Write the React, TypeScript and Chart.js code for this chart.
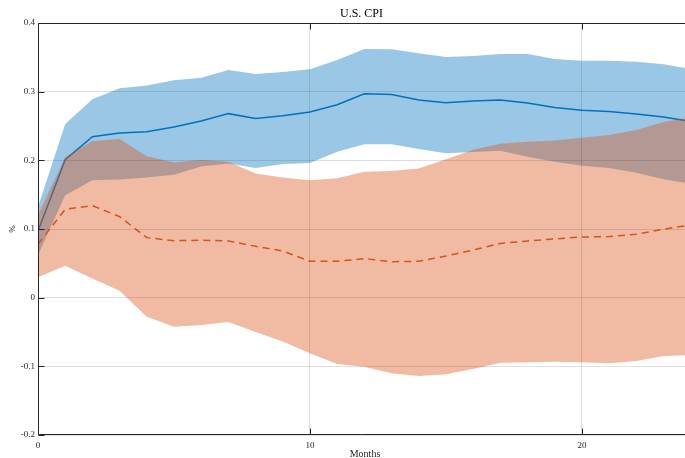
import React, { useEffect, useRef } from "react";
import { Chart, registerables } from "chart.js";

Chart.register(...registerables);

const months = [0, 1, 2, 3, 4, 5, 6, 7, 8, 9, 10, 11, 12, 13, 14, 15, 16, 17, 18, 19, 20, 21, 22, 23, 24];

const blueMean = [0.097, 0.201, 0.2345, 0.2398, 0.2418, 0.2486, 0.2573, 0.268, 0.261, 0.265, 0.2704, 0.281, 0.297, 0.2957, 0.288, 0.284, 0.2865, 0.288, 0.2836, 0.277, 0.273, 0.271, 0.2675, 0.263, 0.2565];
const blueUpper = [0.132, 0.253, 0.289, 0.305, 0.309, 0.3166, 0.3204, 0.3316, 0.3258, 0.3287, 0.3326, 0.346, 0.362, 0.3617, 0.356, 0.3505, 0.352, 0.355, 0.355, 0.3476, 0.345, 0.345, 0.3437, 0.34, 0.333];
const blueLower = [0.062, 0.149, 0.171, 0.172, 0.175, 0.179, 0.191, 0.1955, 0.189, 0.1947, 0.196, 0.2126, 0.2234, 0.2234, 0.2165, 0.2103, 0.212, 0.214, 0.2053, 0.198, 0.192, 0.189, 0.182, 0.1724, 0.166];

const orangeMean = [0.078, 0.1287, 0.134, 0.118, 0.0874, 0.083, 0.0836, 0.0826, 0.0748, 0.068, 0.053, 0.053, 0.0568, 0.0524, 0.053, 0.0607, 0.0694, 0.079, 0.0826, 0.0855, 0.0884, 0.0889, 0.0923, 0.0996, 0.106];
const orangeUpper = [0.12, 0.205, 0.228, 0.231, 0.206, 0.197, 0.201, 0.198, 0.181, 0.175, 0.171, 0.174, 0.1835, 0.1845, 0.188, 0.2015, 0.2155, 0.224, 0.227, 0.229, 0.233, 0.237, 0.244, 0.256, 0.2625];
const orangeLower = [0.0297, 0.0466, 0.028, 0.0102, -0.0277, -0.0422, -0.0398, -0.0354, -0.05, -0.064, -0.081, -0.0966, -0.1005, -0.11, -0.114, -0.1116, -0.104, -0.0947, -0.094, -0.0932, -0.094, -0.0956, -0.0922, -0.085, -0.0837];

const xTicks = [0, 10, 20];
const yTicks = [-0.2, -0.1, 0, 0.1, 0.2, 0.3, 0.4];
const yTickLabels = ["-0.2", "-0.1", "0", "0.1", "0.2", "0.3", "0.4"];
const titleText = "U.S. CPI";
const xLabel = "Months";
const yLabel = "%";

const FONT = '"Liberation Serif", "DejaVu Serif", serif';
const AXIS = "#262626";

const pts = (ys: number[]) => months.map((m, i) => ({ x: m, y: ys[i] }));

const framePlugin = {
  id: "frame",
  afterDraw(chart: any) {
    const { ctx, chartArea, scales } = chart;
    const { left, right, top, bottom } = chartArea;
    const L = Math.round(left) + 0.5;
    const B = Math.round(bottom) - 0.5;
    const T = Math.round(top) + 0.5;
    ctx.save();
    ctx.strokeStyle = AXIS;
    ctx.lineWidth = 1;
    ctx.beginPath();
    ctx.moveTo(L, T);
    ctx.lineTo(right, T);
    ctx.moveTo(L, T);
    ctx.lineTo(L, B);
    ctx.lineTo(right, B);
    const tl = 6;
    for (const v of xTicks) {
      const px = Math.round(scales.x.getPixelForValue(v)) + 0.5;
      ctx.moveTo(px, B);
      ctx.lineTo(px, B - tl);
      ctx.moveTo(px, T);
      ctx.lineTo(px, T + tl);
    }
    for (const v of yTicks) {
      const py = Math.round(scales.y.getPixelForValue(v)) + 0.5;
      ctx.moveTo(L, py);
      ctx.lineTo(L + tl, py);
    }
    ctx.stroke();

    ctx.fillStyle = "#000";
    ctx.textAlign = "center";
    ctx.textBaseline = "alphabetic";
    ctx.font = `12px ${FONT}`;
    ctx.fillText(titleText, 361.5, 17);

    ctx.fillStyle = AXIS;
    ctx.font = `10px ${FONT}`;
    ctx.fillText(xLabel, 365, 457);

    ctx.save();
    ctx.translate(15, 229);
    ctx.rotate(-Math.PI / 2);
    ctx.font = `9px ${FONT}`;
    ctx.fillText(yLabel, 0, 0);
    ctx.restore();
    ctx.restore();
  },
};

export default function App() {
  const ref = useRef<HTMLCanvasElement | null>(null);

  useEffect(() => {
    if (!ref.current) return;
    const gridCommon = {
      color: "rgba(38,38,38,0.15)",
      lineWidth: 1,
      z: 1,
      drawTicks: false,
    };
    const chart = new Chart(ref.current, {
      type: "line",
      data: {
        datasets: [
          {
            label: "orange mean",
            data: pts(orangeMean),
            borderColor: "rgb(217,83,25)",
            borderWidth: 1.5,
            borderDash: [7, 5],
            pointRadius: 0,
            fill: false,
            tension: 0,
          },
          {
            label: "orange lower",
            data: pts(orangeLower),
            borderWidth: 0,
            borderColor: "rgba(0,0,0,0)",
            backgroundColor: "rgba(217,83,25,0.4)",
            pointRadius: 0,
            fill: "+1",
            tension: 0,
          },
          {
            label: "orange upper",
            data: pts(orangeUpper),
            borderWidth: 0,
            borderColor: "rgba(0,0,0,0)",
            pointRadius: 0,
            fill: false,
            tension: 0,
          },
          {
            label: "blue mean",
            data: pts(blueMean),
            borderColor: "rgb(0,114,189)",
            borderWidth: 1.5,
            pointRadius: 0,
            fill: false,
            tension: 0,
          },
          {
            label: "blue lower",
            data: pts(blueLower),
            borderWidth: 0,
            borderColor: "rgba(0,0,0,0)",
            backgroundColor: "rgba(0,114,189,0.4)",
            pointRadius: 0,
            fill: "+1",
            tension: 0,
          },
          {
            label: "blue upper",
            data: pts(blueUpper),
            borderWidth: 0,
            borderColor: "rgba(0,0,0,0)",
            pointRadius: 0,
            fill: false,
            tension: 0,
          },
        ],
      },
      options: {
        animation: false,
        responsive: false,
        devicePixelRatio: 1,
        layout: { padding: { top: 23, right: 0, left: 0, bottom: 0 } },
        plugins: {
          legend: { display: false },
          tooltip: { enabled: false },
          title: { display: false },
        },
        scales: {
          x: {
            type: "linear",
            min: 0,
            max: 23.79,
            grid: gridCommon,
            border: { display: false },
            afterBuildTicks: (s: any) => {
              s.ticks = xTicks.map((v) => ({ value: v }));
            },
            afterFit: (s: any) => {
              s.height = 23;
            },
            ticks: {
              padding: 5,
              color: AXIS,
              font: { family: FONT, size: 9 },
              callback: (v: any) => String(v),
              maxRotation: 0,
            },
          },
          y: {
            type: "linear",
            min: -0.2,
            max: 0.4,
            grid: gridCommon,
            border: { display: false },
            afterBuildTicks: (s: any) => {
              s.ticks = yTicks.map((v) => ({ value: v }));
            },
            afterFit: (s: any) => {
              s.width = 38;
            },
            ticks: {
              padding: 3,
              color: AXIS,
              font: { family: FONT, size: 9 },
              callback: (v: any) => {
                const i = yTicks.findIndex((t) => Math.abs(t - v) < 1e-9);
                return i >= 0 ? yTickLabels[i] : "";
              },
            },
          },
        },
      },
      plugins: [framePlugin],
    } as any);
    return () => chart.destroy();
  }, []);

  return (
    <div style={{ position: "absolute", left: 0, top: 0, width: 685, height: 458, background: "#fff" }}>
      <canvas ref={ref} width={685} height={458} />
    </div>
  );
}
